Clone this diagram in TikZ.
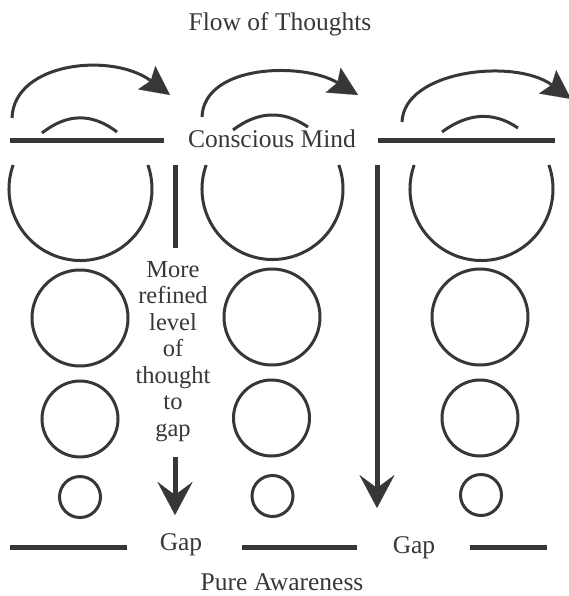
\documentclass[tikz,border=0pt]{standalone}
\usepackage{fontspec}
\setmainfont{Liberation Serif}
\usetikzlibrary{arrows.meta}
\definecolor{ink}{RGB}{55,55,55}
\tikzset{
  thinline/.style={draw=ink, line width=3pt},
  heavyline/.style={draw=ink, line width=5pt},
  toparrow/.style={thinline, -{Stealth[length=29pt,width=29pt,inset=5pt,line width=0.1pt]}},
  downarrow/.style={heavyline, -{Stealth[length=33pt,width=35pt,inset=13pt,line width=0.1pt]}},
  label/.style={text=ink, font=\fontsize{25.5}{30}\selectfont, inner sep=0pt, anchor=base},
  midtext/.style={text=ink, font=\fontsize{24.5}{26.5}\selectfont, inner sep=0pt, align=center, anchor=north}
}
\begin{document}
\begin{tikzpicture}[x=1pt,y=-1pt]
\useasboundingbox (0,0) rectangle (569,596);

% texts
\node[label] (title) at (280,31) {Flow of Thoughts};
\node[label] (mind) at (272,147) {Conscious Mind};
\node[label] (gap1) at (181,550) {Gap};
\node[label] (gap2) at (414,553) {Gap};
\node[label] (aware) at (282,590) {Pure Awareness};
\node[midtext] (refined) at (173,261) {More\\refined\\level\\of\\thought\\to\\gap};

% top arcs with arrows
\coordinate (a1s) at (12,118);  \coordinate (a1e) at (170,95);
\coordinate (a2s) at (202,117); \coordinate (a2e) at (358,95);
\coordinate (a3s) at (402,122); \coordinate (a3e) at (571,99);
\draw[toparrow] (a1s) .. controls (14,62) and (112,52) .. (a1e);
\draw[toparrow] (a2s) .. controls (204,64) and (303,62) .. (a2e);
\draw[toparrow] (a3s) .. controls (404,70) and (515,58) .. (a3e);

% small arcs
\coordinate (s1s) at (42,133);  \coordinate (s1e) at (117,132);
\coordinate (s2s) at (233,130); \coordinate (s2e) at (308,127);
\coordinate (s3s) at (442,132); \coordinate (s3e) at (518,128);
\draw[thinline] (s1s) .. controls (67,113.3) and (92,112.7) .. (s1e);
\draw[thinline] (s2s) .. controls (258,111) and (283,110) .. (s2e);
\draw[thinline] (s3s) .. controls (467.3,113.3) and (492.7,110.7) .. (s3e);

% top heavy lines
\coordinate (t1a) at (10,141);  \coordinate (t1b) at (164,141);
\coordinate (t3a) at (378,141); \coordinate (t3b) at (555,141);
\draw[heavyline] (t1a) -- (t1b);
\draw[heavyline] (t3a) -- (t3b);

% bottom heavy lines
\coordinate (b1a) at (10,547);  \coordinate (b1b) at (127,547);
\coordinate (b2a) at (242,547); \coordinate (b2b) at (357,547);
\coordinate (b3a) at (470,547); \coordinate (b3b) at (547,547);
\draw[heavyline] (b1a) -- (b1b);
\draw[heavyline] (b2a) -- (b2b);
\draw[heavyline] (b3a) -- (b3b);

% big open circles
\coordinate (c1) at (80.5,189);
\coordinate (c2) at (272.5,189);
\coordinate (c3) at (481.5,189);
\draw[thinline] (c1) ++(199.6:71.5) arc[start angle=199.6, end angle=-19.6, radius=71.5];
\draw[thinline] (c2) ++(199.9:70.5) arc[start angle=199.9, end angle=-19.9, radius=70.5];
\draw[thinline] (c3) ++(199.6:71.5) arc[start angle=199.6, end angle=-19.6, radius=71.5];

% circles column 1
\draw[thinline] (80,318) circle[radius=48];
\draw[thinline] (80,419) circle[radius=38];
\draw[thinline] (80,497) circle[radius=20.5];
% circles column 2
\draw[thinline] (272,317) circle[radius=48];
\draw[thinline] (271.5,418) circle[radius=38];
\draw[thinline] (272.5,496) circle[radius=20.5];
% circles column 3
\draw[thinline] (480,317) circle[radius=48];
\draw[thinline] (480,418) circle[radius=38];
\draw[thinline] (481,495) circle[radius=20.5];

% vertical line and arrows
\coordinate (v1top) at (175,165); \coordinate (v1bot) at (175,248);
\draw[heavyline] (v1top) -- (v1bot);
\coordinate (d1s) at (175,457); \coordinate (d1e) at (175,515);
\draw[downarrow] (d1s) -- (d1e);
\coordinate (d2s) at (377,165); \coordinate (d2e) at (377,508);
\draw[downarrow] (d2s) -- (d2e);
\end{tikzpicture}
\end{document}
